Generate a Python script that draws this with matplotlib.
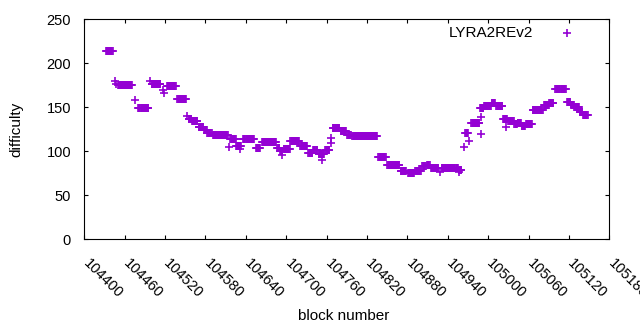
import numpy as np
import matplotlib
matplotlib.use("Agg")
import matplotlib.pyplot as plt
import matplotlib.transforms as mtransforms

plt.rcParams['font.family'] = ['Liberation Sans', 'DejaVu Sans']

# difficulty runs: (first block, last block, difficulty)
run_start = [104432, 104450, 104480, 104500, 104523, 104538, 104555, 104560, 104570, 104578,
             104583, 104591, 104617, 104626, 104636, 104655, 104664, 104687, 104691, 104696,
             104706, 104721, 104733, 104740, 104748, 104758, 104769, 104781, 104791, 104798,
             104837, 104850, 104870, 104881, 104892, 104902, 104909, 104915, 104931, 104957,
             104966, 104975, 104988, 104994, 105005, 105012, 105022, 105030, 105039, 105044,
             105050, 105056, 105066, 105083, 105091, 105100, 105117, 105123, 105128, 105136,
             105141]
run_end = [104442, 104471, 104495, 104513, 104536, 104551, 104559, 104568, 104577, 104582,
           104589, 104613, 104625, 104633, 104652, 104661, 104685, 104690, 104693, 104705,
           104719, 104731, 104739, 104746, 104756, 104764, 104779, 104789, 104796, 104835,
           104848, 104868, 104878, 104890, 104900, 104907, 104913, 104926, 104955, 104960,
           104970, 104987, 104993, 105004, 105010, 105021, 105028, 105038, 105043, 105049,
           105055, 105065, 105081, 105090, 105097, 105115, 105122, 105127, 105135, 105140,
           105148]
run_diff = [214, 175, 149, 177, 174, 160, 137, 134, 128, 124,
            121, 119, 114, 106, 114, 104, 111, 104, 100, 103,
            112, 106, 98, 101, 97, 101, 126, 123, 118, 117,
            93, 85, 78, 75, 78, 83, 85, 81, 81, 79,
            121, 132, 149, 152, 155, 152, 137, 134, 131, 132,
            129, 131, 147, 153, 155, 171, 156, 153, 150, 145,
            141]

# isolated blocks
single_block = [104446, 104447, 104475, 104498, 104517, 104519, 104553, 104615, 104632, 104694,
                104753, 104766, 104767, 104928, 104956, 104964, 104972, 104989, 104990, 105026]
single_diff = [180, 177, 158, 180, 170, 166, 140, 105, 103, 96,
               90, 109, 115, 77, 76, 105, 112, 139, 120, 128]

xticks = list(range(104400, 105181, 60))
yticks = [0, 50, 100, 150, 200, 250]

blocks = np.concatenate([np.arange(s, e + 1) for s, e in zip(run_start, run_end)] + [np.array(single_block)])
diffs = np.concatenate([np.full(e - s + 1, d) for s, e, d in zip(run_start, run_end, run_diff)] + [np.array(single_diff)])

color = '#9400d3'

fig = plt.figure(figsize=(6.4, 3.3), dpi=100)
ax = fig.add_axes([84.3 / 640, 1 - 239.3 / 330, 525 / 640, 220 / 330])

ax.plot(blocks, diffs, linestyle='none', marker='+', markersize=5.5, markeredgewidth=1.2, color=color)

ax.set_xlim(104400, 105180)
ax.set_ylim(0, 250)
ax.set_xticks(xticks)
ax.set_yticks(yticks)
ax.tick_params(direction='in', length=3, width=0.8, top=True, right=True, labelsize=10.5)
ax.tick_params(axis='y', pad=9.5)
ax.tick_params(axis='x', pad=6)
# gnuplot "rotate by -45": push labels a bit right and down
shift = mtransforms.ScaledTranslation(6 / 100, -9 / 100, fig.dpi_scale_trans)
for lab in ax.get_xticklabels():
    lab.set_rotation(-45)
    lab.set_ha('left')
    lab.set_va('top')
    lab.set_rotation_mode('anchor')
    lab.set_transform(lab.get_transform() + shift)
for sp in ax.spines.values():
    sp.set_linewidth(0.8)

ax.set_xlabel('block number', fontsize=11)
ax.xaxis.set_label_coords(0.495, -0.315)
ax.set_ylabel('difficulty', fontsize=11)
ax.yaxis.set_label_coords(-0.116, 0.5)

# key, gnuplot style: title then sample
ax.text(0.8547, 0.939, 'LYRA2REv2', transform=ax.transAxes, ha='right', va='center', fontsize=11)
ax.plot([0.9194], [0.939], transform=ax.transAxes, marker='+', markersize=5.5,
        markeredgewidth=1.2, color=color, linestyle='none')

plt.savefig('out.png', dpi=100)
